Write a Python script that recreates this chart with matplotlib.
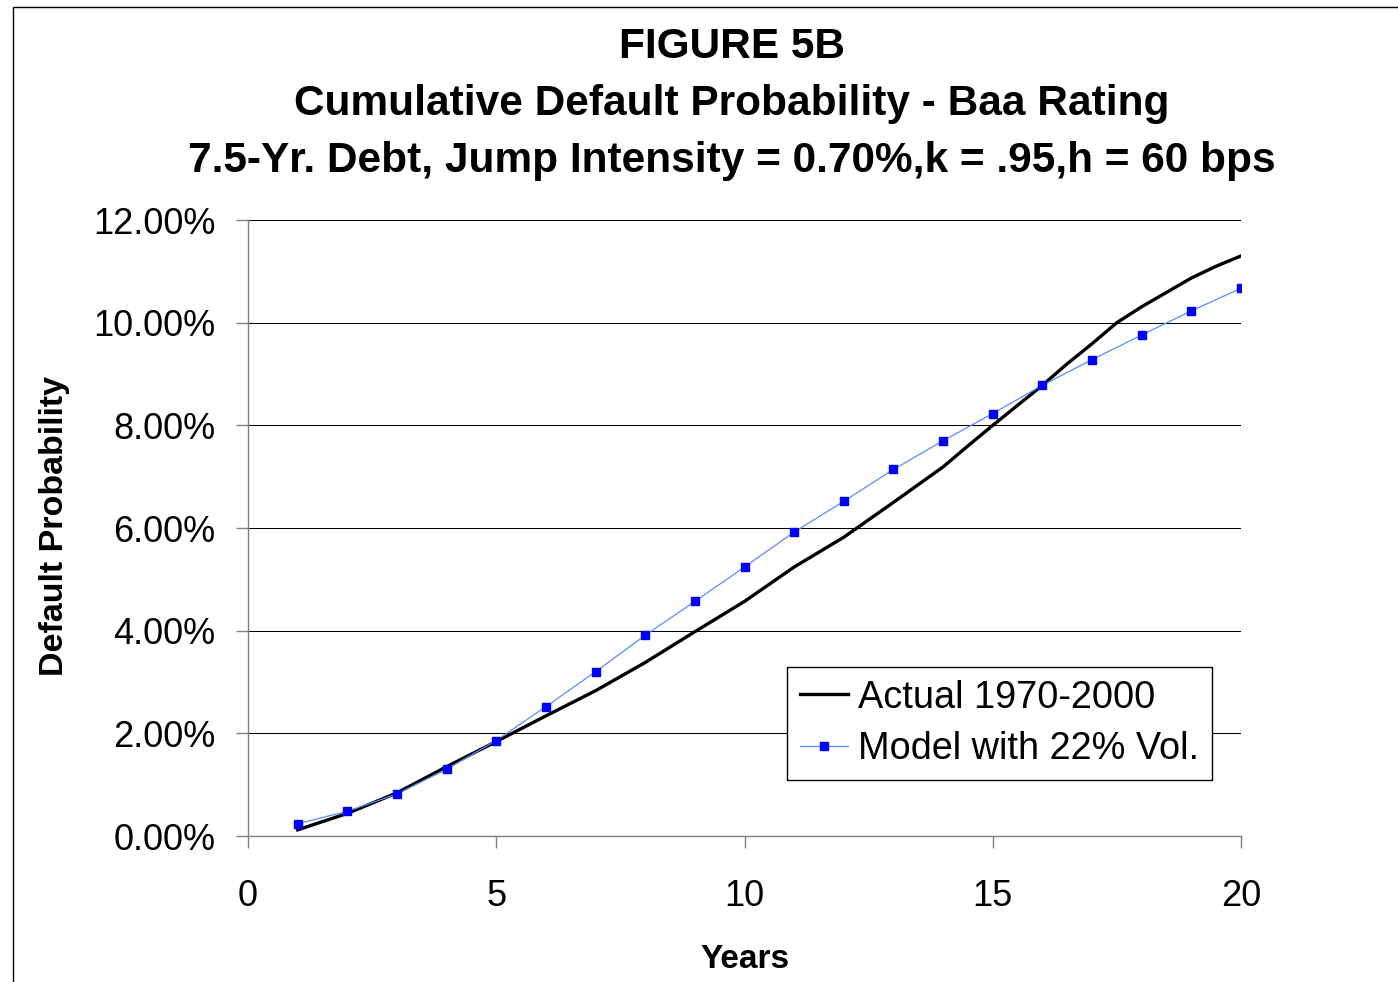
import matplotlib
matplotlib.use("Agg")
import matplotlib.pyplot as plt
from matplotlib.patches import Rectangle
from matplotlib.ticker import FuncFormatter, FixedLocator

plt.rcParams['font.family'] = ['Liberation Sans', 'DejaVu Sans']

# ---- data ----
title_lines = ["FIGURE 5B",
               "Cumulative Default Probability - Baa Rating",
               "7.5-Yr. Debt, Jump Intensity = 0.70%,k = .95,h = 60 bps"]
x_label = "Years"
y_label = "Default Probability"

actual_years = [1, 2, 3, 4, 5, 6, 7, 8, 9, 10, 11, 12, 13, 14, 14.5, 15,
                16, 16.5, 17, 17.5, 18, 19, 19.5, 20]
actual_pct = [0.12, 0.44, 0.84, 1.35, 1.84, 2.34, 2.83, 3.38, 3.98, 4.57,
              5.24, 5.82, 6.50, 7.19, 7.60, 8.00, 8.78, 9.20, 9.59, 10.00,
              10.31, 10.87, 11.10, 11.30]

model_years = [1, 2, 3, 4, 5, 6, 7, 8, 9, 10, 11, 12, 13, 14, 15, 16, 17,
               18, 19, 20]
model_pct = [0.24, 0.48, 0.82, 1.30, 1.86, 2.52, 3.20, 3.91, 4.57, 5.24,
             5.92, 6.52, 7.14, 7.70, 8.23, 8.78, 9.28, 9.76, 10.23, 10.67]

series_names = ["Actual 1970-2000", "Model with 22% Vol."]
x_ticks = [0, 5, 10, 15, 20]
y_ticks = [0, 2, 4, 6, 8, 10, 12]

W, H = 1398, 982
fig = plt.figure(figsize=(W / 100, H / 100), dpi=100)
fig.patch.set_facecolor('white')

# outer chart border (runs off the right and bottom edges)
fig.patches.append(Rectangle((12.5 / W, -0.2), 2.0, 1.2 - 7 / H,
                             transform=fig.transFigure, fill=False,
                             edgecolor='black', lw=1.0))

ax = fig.add_axes([248 / W, 1 - 836 / H, (1241 - 248) / W, (836 - 220) / H])
ax.set_xlim(0, 20)
ax.set_ylim(0, 12)

ax.plot(actual_years, actual_pct, color='black', lw=2.4,
        solid_joinstyle='round', label=series_names[0], zorder=3)
ax.plot(model_years, model_pct, color='#5A8CFF', lw=0.9, marker='s',
        markersize=5.5, markerfacecolor='#0000FF', markeredgecolor='#0000FF',
        label=series_names[1], zorder=4)

ax.xaxis.set_major_locator(FixedLocator(x_ticks))
ax.yaxis.set_major_locator(FixedLocator(y_ticks))
ax.yaxis.set_major_formatter(FuncFormatter(lambda v, p: f"{v:.2f}%"))

ax.grid(axis='y', color='black', lw=0.75)
ax.set_axisbelow(True)
for s in ['top', 'right']:
    ax.spines[s].set_visible(False)
for s in ['left', 'bottom']:
    ax.spines[s].set_color('#808080')
    ax.spines[s].set_linewidth(1.0)

ax.tick_params(axis='both', direction='out', length=8.6, width=1.0,
               color='#808080', labelsize=26, labelcolor='black')
ax.tick_params(axis='y', pad=15)
ax.tick_params(axis='x', pad=22)

# titles
for txt, base in zip(title_lines, [58, 115, 172]):
    fig.text(732 / W, 1 - base / H, txt, ha='center', va='baseline',
             fontsize=30.5, fontweight='bold')

fig.text(745 / W, 1 - 968 / H, x_label, ha='center', va='baseline',
         fontsize=24, fontweight='bold')
fig.text(55 / W, 1 - 526 / H, y_label, ha='center', va='center',
         rotation=90, fontsize=24.5, fontweight='bold')

leg = ax.legend(loc='upper left', bbox_to_anchor=(787 / W, 1 - 667 / H),
                bbox_transform=fig.transFigure, borderaxespad=0,
                fontsize=27.3, frameon=True, fancybox=False,
                handlelength=1.27, handletextpad=0.27, labelspacing=0.42,
                borderpad=0.33)
leg.get_frame().set_edgecolor('black')
leg.get_frame().set_linewidth(1.0)
leg.get_frame().set_alpha(1.0)

fig.savefig('out.png', dpi=100)
